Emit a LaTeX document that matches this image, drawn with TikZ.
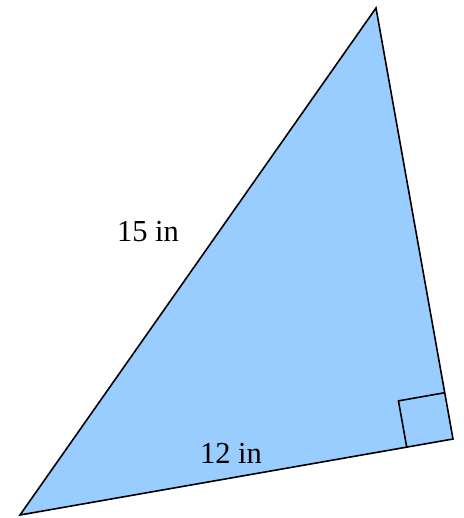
\documentclass[tikz,border=0pt]{standalone}
\usepackage{fontspec}
\setmainfont{Liberation Serif}
\usetikzlibrary{calc}
\begin{document}
\begin{tikzpicture}[x=1pt,y=-1pt,
  edge/.style={draw=black,line width=1.6pt,line join=miter},
  lbl/.style={font=\fontsize{30.5}{34}\selectfont,inner sep=0pt}]
\useasboundingbox (0,0) rectangle (463,518);
\coordinate (A) at (20,515);
\coordinate (B) at (376,8);
\coordinate (C) at (453,439);
\fill[fill={rgb,255:red,153;green,204;blue,255}] (A) -- (B) -- (C) -- cycle;
\draw[edge] (A) -- (B) -- (C) -- cycle;
\coordinate (P) at ($(C)!47pt!(A)$);
\coordinate (Q) at ($(C)!47pt!(B)$);
\draw[edge] (P) -- ($(P)+(Q)-(C)$) -- (Q);
\node[lbl] (l15) at (148,232) {15 in};
\node[lbl] (l12) at (231,453) {12 in};
\end{tikzpicture}
\end{document}
